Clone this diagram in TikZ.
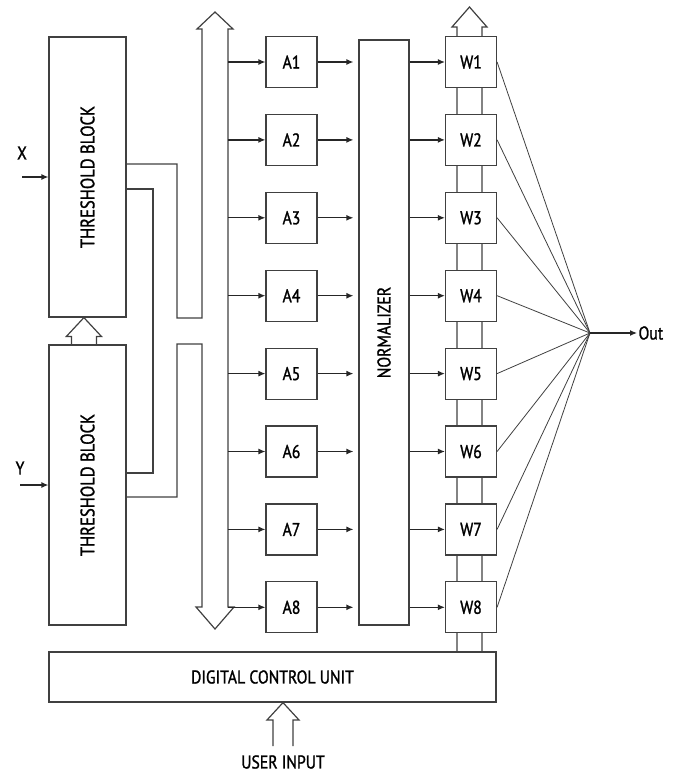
\documentclass[tikz,border=0pt]{standalone}
\usepackage{fontspec}
\setmainfont{PT Sans}[FakeStretch=0.85,FakeBold=1.3]
\usepackage{tikz}
\usetikzlibrary{positioning,arrows.meta,calc}

\begin{document}
\begin{tikzpicture}[
  x=1pt, y=1pt,
  line width=1.2pt,
  box/.style={draw=black!75, fill=white, minimum width=51pt, minimum height=51pt,
              inner sep=0pt, font=\fontsize{18.5}{18.5}\selectfont},
  tblock/.style={draw=black!75, fill=white, minimum width=77pt, minimum height=280pt, inner sep=0pt},
  lbl/.style={font=\fontsize{18.5}{18.5}\selectfont, inner sep=1pt},
  wire/.style={draw=black!75},
  arrow/.style={-{Latex[length=7pt,width=6pt]}, black!85}
]
  \useasboundingbox (0,0) rectangle (677,-774);

  % left side
  \node[tblock, label={[rotate=90, lbl, font=\fontsize{19.5}{19.5}\selectfont]center:THRESHOLD BLOCK}] (thA) at (87.5,-177) {};
  \node[tblock, label={[rotate=90, lbl, font=\fontsize{19.5}{19.5}\selectfont]center:THRESHOLD BLOCK}] (thB) at (87.5,-485) {};
  \node[lbl] (inX) at (22,-153) {X};
  \node[lbl] (inY) at (20,-468) {Y};
  \draw[arrow] (thA.west -| inX.south) -- (thA.west);
  \draw[arrow] (thB.west -| inY.south) -- (thB.west);

  \node[draw=black!75, minimum width=447pt, minimum height=50pt, lbl] (dcu) at (272.5,-677) {DIGITAL CONTROL UNIT};
  \node[draw=black!75, minimum width=50pt, minimum height=585pt,
        label={[rotate=90, lbl]center:NORMALIZER}] (norm) at (384,-332.5) {};
  \node[lbl] (user) at (283,-762) {USER INPUT};
  \node[lbl, anchor=west] (out) at (637,-333) {Out};
  \coordinate (sum) at (590,-333);
  \coordinate (busR) at (228,0);
  \coordinate (wl) at (457,0);
  \coordinate (wr) at (482,0);

  % stems of the W column (boxes are drawn on top)
  \draw[wire] (dcu.north -| wl) -- (457,-27) -- (452,-27) -- (469.5,-7) -- (487,-27) -- (482,-27) -- (dcu.north -| wr);

  % A column
  \node[box] (A1) at (291.5,-62) {A1};
  \node[box, below=25.7pt of A1] (A2) {A2};
  \node[box, below=25.7pt of A2] (A3) {A3};
  \node[box, below=25.7pt of A3] (A4) {A4};
  \node[box, below=25.7pt of A4] (A5) {A5};
  \node[box, below=25.7pt of A5] (A6) {A6};
  \node[box, below=25.7pt of A6] (A7) {A7};
  \node[box, below=25.7pt of A7] (A8) {A8};

  % W column
  \node[box] (W1) at (471,-62) {W1};
  \node[box, below=25.7pt of W1] (W2) {W2};
  \node[box, below=25.7pt of W2] (W3) {W3};
  \node[box, below=25.7pt of W3] (W4) {W4};
  \node[box, below=25.7pt of W4] (W5) {W5};
  \node[box, below=25.7pt of W5] (W6) {W6};
  \node[box, below=25.7pt of W6] (W7) {W7};
  \node[box, below=25.7pt of W7] (W8) {W8};

  % bus and wires from the threshold blocks
  \draw[wire] ($(thA.east)+(0,13)$) -- (177,-164) -- (177,-318) -- (202,-318) -- (202,-29)
    -- (197,-29) -- (215,-12) -- (233,-29) -- (228,-29) -- (228,-607)
    -- (234,-607) -- (215,-629) -- (196,-607) -- (202,-607) -- (202,-344)
    -- (177,-344) -- (177,-497) -- ($(thB.east)+(0,-12)$);
  \draw[wire] ($(thA.east)+(0,-12)$) -- (153,-189) -- (153,-473) -- ($(thB.east)+(0,12)$);

  % small hollow arrows
  \draw[wire] ($(thB.north west)+(23,0)$) -- ++(0,8) -- ++(-5,0) -- ($(thA.south west)+(35.5,0)$)
    -- ($(thB.north west)+(53,8)$) -- ++(-5,0) -- ++(0,-8);
  \draw[wire] ($(thB.south west)+(23,0)$) -- ($(thB.south west)+(23,0)$ |- dcu.north);
  \draw[wire] ($(thB.south west)+(48,0)$) -- ($(thB.south west)+(48,0)$ |- dcu.north);
  \draw[wire] (273,-746) -- (273,-720) -- (267,-720) -- (dcu.south -| user.north)
    -- (299,-720) -- (293,-720) -- (293,-746);

  % bus to A
  \draw[arrow] (A1.west -| busR) -- (A1.west);
  \draw[arrow] (A2.west -| busR) -- (A2.west);
  \draw[arrow] (A3.west -| busR) -- (A3.west);
  \draw[arrow] (A4.west -| busR) -- (A4.west);
  \draw[arrow] (A5.west -| busR) -- (A5.west);
  \draw[arrow] (A6.west -| busR) -- (A6.west);
  \draw[arrow] (A7.west -| busR) -- (A7.west);
  \draw[arrow] (A8.west -| busR) -- (A8.west);

  % A to normalizer
  \draw[arrow, shorten >=5pt] (A1.east) -- (A1.east -| norm.west);
  \draw[arrow, shorten >=5pt] (A2.east) -- (A2.east -| norm.west);
  \draw[arrow, shorten >=5pt] (A3.east) -- (A3.east -| norm.west);
  \draw[arrow, shorten >=5pt] (A4.east) -- (A4.east -| norm.west);
  \draw[arrow, shorten >=5pt] (A5.east) -- (A5.east -| norm.west);
  \draw[arrow, shorten >=5pt] (A6.east) -- (A6.east -| norm.west);
  \draw[arrow, shorten >=5pt] (A7.east) -- (A7.east -| norm.west);
  \draw[arrow, shorten >=5pt] (A8.east) -- (A8.east -| norm.west);

  % normalizer to W
  \draw[arrow] (W1.west -| norm.east) -- (W1.west);
  \draw[arrow] (W2.west -| norm.east) -- (W2.west);
  \draw[arrow] (W3.west -| norm.east) -- (W3.west);
  \draw[arrow] (W4.west -| norm.east) -- (W4.west);
  \draw[arrow] (W5.west -| norm.east) -- (W5.west);
  \draw[arrow] (W6.west -| norm.east) -- (W6.west);
  \draw[arrow] (W7.west -| norm.east) -- (W7.west);
  \draw[arrow] (W8.west -| norm.east) -- (W8.west);

  % W to output
  \draw[wire, line width=0.8pt] (W1.east) -- (sum);
  \draw[wire, line width=0.8pt] (W2.east) -- (sum);
  \draw[wire, line width=0.8pt] (W3.east) -- (sum);
  \draw[wire, line width=0.8pt] (W4.east) -- (sum);
  \draw[wire, line width=0.8pt] (W5.east) -- (sum);
  \draw[wire, line width=0.8pt] (W6.east) -- (sum);
  \draw[wire, line width=0.8pt] (W7.east) -- (sum);
  \draw[wire, line width=0.8pt] (W8.east) -- (sum);
  \draw[arrow] (sum) -- (out.west);
\end{tikzpicture}
\end{document}
